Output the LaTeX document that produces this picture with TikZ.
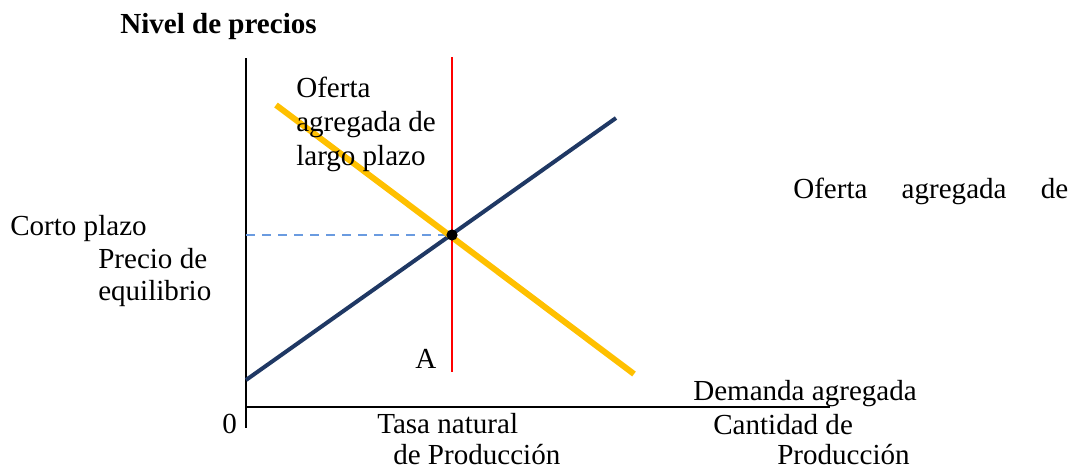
\documentclass[tikz,border=0pt]{standalone}
\usepackage{fontspec}
\setmainfont{Liberation Serif}
\definecolor{ofertaoro}{HTML}{FFC000}
\definecolor{demandaazul}{HTML}{1F3864}
\definecolor{guiaazul}{HTML}{6A9BE0}

\begin{document}
\begin{tikzpicture}[x=0.75pt,y=-0.75pt,
    etiqueta/.style={anchor=base west, inner sep=0pt, font=\fontsize{21.8}{25.5}\selectfont},
    eje/.style={draw=black, line width=0.9pt}]
            \useasboundingbox (0,0) rectangle (1076,472);

            % ejes
            \coordinate (ytop) at (246,58);
            \coordinate (ybot) at (246,428);
            \coordinate (xizq) at (246,407);
            \coordinate (xder) at (830,407);
            \draw[eje] (ytop) -- (ybot);
            \draw[eje] (xizq) -- (xder);

            % curvas
            \coordinate (e) at (452,235);
            \coordinate (lp1) at (276,105);
            \coordinate (lp2) at (634,374);
            \coordinate (da1) at (246,380);
            \coordinate (da2) at (616,118);
            \coordinate (r1) at (452,57);
            \coordinate (r2) at (452,372);
            \coordinate (py) at (246,235);

            \draw[color=guiaazul, line width=1.2pt, dash pattern=on 7pt off 5pt] (py) -- (e);
            \draw[color=demandaazul, line width=3pt] (da1) -- (da2);
            \draw[color=ofertaoro, line width=4.5pt] (lp1) -- (lp2);
            \draw[color=red, line width=1.3pt] (r1) -- (r2);
            \fill (e) circle (4.2pt);

            % textos
            \node[etiqueta, font=\fontsize{21.8}{25.5}\selectfont\bfseries] (titulo) at (120,33) {Nivel de precios};
            \node[etiqueta] (olp1) at (296,97) {Oferta};
            \node[etiqueta] (olp2) at (296,131) {agregada de};
            \node[etiqueta] (olp3) at (296,165) {largo plazo};
            \node[etiqueta, text width=275*0.75pt] (ocp) at (793,198) {Oferta\hfill agregada\hfill de};
            \node[etiqueta] (corto) at (10,235) {Corto plazo};
            \node[etiqueta] (precio1) at (98,268) {Precio de};
            \node[etiqueta] (precio2) at (98,300) {equilibrio};
            \node[etiqueta] (puntoA) at (415,368) {A};
            \node[etiqueta] (demanda) at (693,400) {Demanda agregada};
            \node[etiqueta] (cero) at (222,433) {0};
            \node[etiqueta] (tasa1) at (377,433) {Tasa natural};
            \node[etiqueta] (tasa2) at (393,464) {de Producción};
            \node[etiqueta] (cant1) at (713,434) {Cantidad de};
            \node[etiqueta] (cant2) at (777,464) {Producción};

        \end{tikzpicture}
\end{document}
